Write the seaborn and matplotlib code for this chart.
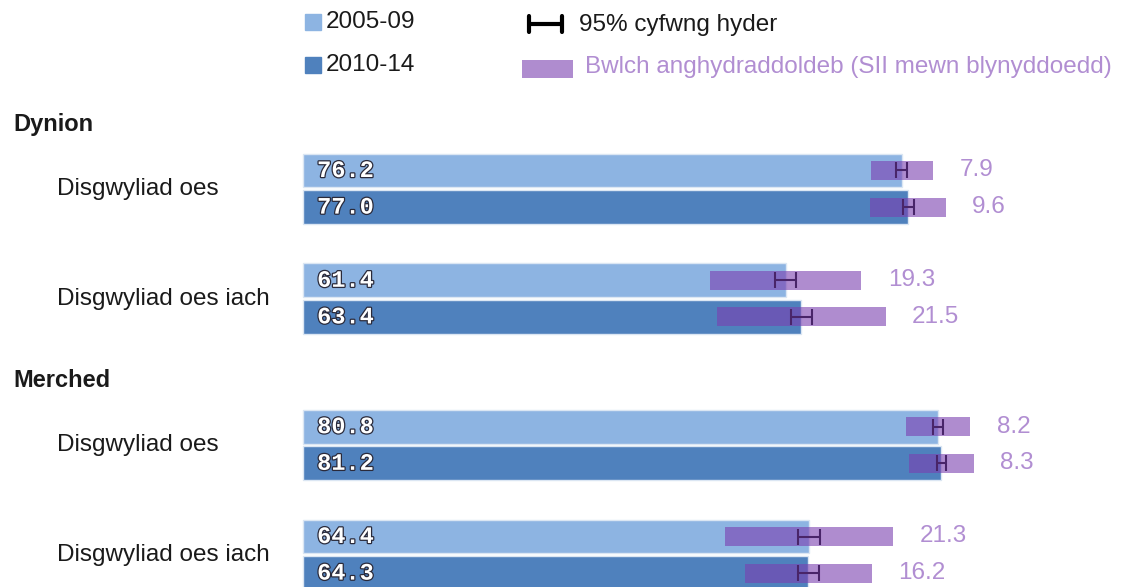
import pandas as pd
import matplotlib.pyplot as plt
import matplotlib.patheffects as pe
from matplotlib.patches import Rectangle
from matplotlib.lines import Line2D
import seaborn as sns

# data
groups = ["Dynion", "Merched"]
measures = ["Disgwyliad oes", "Disgwyliad oes iach"]
periods = ["2005-09", "2010-14"]
value_0509 = [76.2, 61.4, 80.8, 64.4]
value_1014 = [77.0, 63.4, 81.2, 64.3]
gap_0509 = [7.9, 19.3, 8.2, 21.3]
gap_1014 = [9.6, 21.5, 8.3, 16.2]
ci_0509 = [0.7, 1.3, 0.6, 1.4]
ci_1014 = [0.7, 1.3, 0.6, 1.3]

legend_labels = ["95% cyfwng hyder", "Bwlch anghydraddoldeb (SII mewn blynyddoedd)"]

light_blue = "#8db4e2"
dark_blue = "#4f81bd"
purple = "#7b3fb0"
purple_text = "#b18ed2"
text_col = "#1a1a1a"

sns.set_style("white")
plt.rcParams["font.family"] = ["Liberation Sans", "DejaVu Sans"]

# layout steps (in bar rows)
GROUP_STEP = 7
MEASURE_STEP = 3

rows = []
for p, (vals, gaps, cis) in enumerate([(value_0509, gap_0509, ci_0509),
                                       (value_1014, gap_1014, ci_1014)]):
    for i, (v, g, c) in enumerate(zip(vals, gaps, cis)):
        gi, mi = divmod(i, 2)
        rows.append({"group": groups[gi], "measure": measures[mi], "period": periods[p],
                     "value": v, "gap": g, "ci": c,
                     "pos": gi * GROUP_STEP + mi * MEASURE_STEP + p})
df = pd.DataFrame(rows)

W, H = 1129, 587
fig = plt.figure(figsize=(W / 100, H / 100), dpi=100)
ax = fig.add_axes([0, 0, 1, 1])

sns.barplot(data=df, x="value", y="pos", hue="period", hue_order=periods,
            palette=[light_blue, dark_blue], saturation=1, orient="y", native_scale=True,
            dodge=False, width=0.92, errorbar=None, legend=False,
            edgecolor="#dbe6f3", linewidth=1, ax=ax)

ax.errorbar(df["value"], df["pos"], xerr=df["ci"], fmt="none", ecolor="black",
            elinewidth=1.5, capsize=5.5, capthick=1.5, zorder=3)

ax.barh(df["pos"], df["gap"], left=df["value"] - df["gap"] / 2, height=0.52,
        color=purple, alpha=0.6, edgecolor="none", zorder=4)

for _, r in df.iterrows():
    ax.text(1.8, r["pos"], f"{r['value']:.1f}", va="center", ha="left",
            fontsize=17, fontweight="bold", family="Liberation Mono", color="white",
            path_effects=[pe.withStroke(linewidth=1.8, foreground="#2a2a3a")], zorder=5)
    ax.annotate(f"{r['gap']:.1f}", xy=(r["value"] + r["gap"] / 2, r["pos"]),
                xytext=(19, 0), textcoords="offset points", va="center", ha="left",
                fontsize=17.5, color=purple_text)

ytr = ax.get_yaxis_transform()
for gi, g in enumerate(groups):
    ax.text(13 / W, gi * GROUP_STEP - 1.25, g, transform=ytr, fontsize=17,
            fontweight="bold", color=text_col, va="center")
    for mi, m in enumerate(measures):
        ax.text(57 / W, gi * GROUP_STEP + mi * MEASURE_STEP + 0.5, m, transform=ytr,
                fontsize=17.5, color=text_col, va="center")

# axes: 0 at x=303px, 7.86 px per year; first row at y=170.5px, 36.6 px per row
ax.set_xlim(-303 / 7.86, (W - 303) / 7.86)
ax.set_ylim((H - 170.5) / 36.6, -170.5 / 36.6)
ax.axis("off")


# legend drawn in figure pixels
def fx(x):
    return x / W


def fy(y):
    return 1 - y / H


fig.add_artist(Rectangle((fx(305), fy(30)), 16 / W, 16 / H, color=light_blue,
                         transform=fig.transFigure))
fig.add_artist(Rectangle((fx(305), fy(73)), 16 / W, 16 / H, color=dark_blue,
                         transform=fig.transFigure))
fig.text(fx(326), fy(22), periods[0], fontsize=17.5, color=text_col, va="center")
fig.text(fx(326), fy(65), periods[1], fontsize=17.5, color=text_col, va="center")

fig.add_artist(Line2D([fx(529), fx(562)], [fy(24), fy(24)], color="black", lw=3))
for xx in (529, 562):
    fig.add_artist(Line2D([fx(xx), fx(xx)], [fy(16), fy(32)], color="black", lw=3))
fig.text(fx(579), fy(25), legend_labels[0], fontsize=17.5, color=text_col, va="center")

fig.add_artist(Rectangle((fx(522), fy(78)), 51 / W, 18 / H, facecolor=purple, alpha=0.6,
                         edgecolor="none", transform=fig.transFigure))
fig.text(fx(585), fy(67), legend_labels[1], fontsize=17.5, color=purple_text, va="center")

fig.savefig("out.png", dpi=100)
